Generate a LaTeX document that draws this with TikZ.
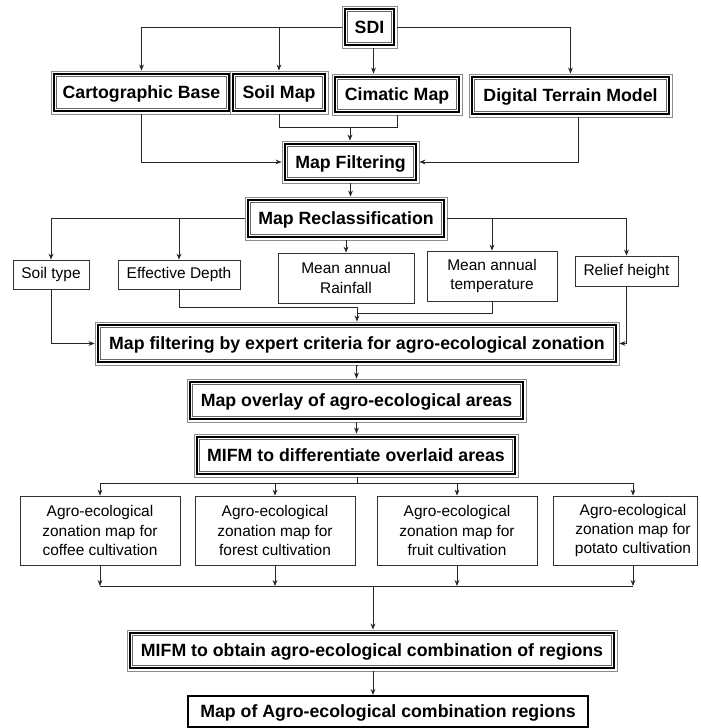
\documentclass[tikz,border=0pt]{standalone}
\usepackage{fontspec}
\setmainfont{Liberation Sans}
\usetikzlibrary{arrows.meta,calc}
\begin{document}
\begin{tikzpicture}[x=0.75pt,y=-0.75pt,
 conn/.style={draw=black!85, line width=0.6pt},
 arr/.style={conn, -{Stealth[length=4.5pt,width=3.6pt]}},
 bx/.style 2 args={minimum width=#1*0.75pt, minimum height=#2*0.75pt},
 tribox/.style={draw=black!45, line width=0.7pt, fill=white, inner sep=0pt, align=center,
   text height=9.6pt, text depth=0pt,
   font=\bfseries\fontsize{13.3}{16}\selectfont,
   path picture={
     \draw[black, line width=1.5pt] ([shift={(2.3pt,2.3pt)}]path picture bounding box.south west) rectangle ([shift={(-2.3pt,-2.3pt)}]path picture bounding box.north east);
     \draw[black!60, line width=0.5pt] ([shift={(4.1pt,4.1pt)}]path picture bounding box.south west) rectangle ([shift={(-4.1pt,-4.1pt)}]path picture bounding box.north east);
   }},
 pbox/.style={draw=black!80, line width=0.6pt, fill=white, inner sep=0pt, align=center,
   font=\fontsize{11.6}{14.6}\selectfont},
 ptext/.style={inner sep=0pt, align=center, font=\fontsize{11.6}{14.6}\selectfont},
 fbox/.style={draw=black, line width=1.5pt, fill=white, inner sep=0pt, align=center,
   text height=9.6pt, text depth=0pt,
   font=\bfseries\fontsize{13.3}{16}\selectfont}]
\useasboundingbox (0,0) rectangle (700,728);

% top level
\node[tribox, bx={55}{42}] (SDI) at (369.5,27) {SDI};
\node[tribox, bx={181}{43}] (cart) at (141.5,92.5) {Cartographic Base};
\node[tribox, bx={98}{43}] (soil) at (279,92.5) {Soil Map};
\node[tribox, bx={130}{41}] (cim) at (397,94.5) {Cimatic Map};
\node[tribox, bx={203}{43}] (dtm) at (570.5,95.5) {Digital Terrain Model};
\node[tribox, bx={137}{42}] (filt) at (350.5,162) {Map Filtering};
\node[tribox, bx={202}{43}] (recl) at (346,218.5) {Map Reclassification};

% criteria
\node[pbox, bx={76}{29}] (soiltype) at (51,274.5) {Soil type};
\node[pbox, bx={122}{29}] (depth) at (179,274.5) {Effective Depth};
\node[pbox, bx={136}{50}] (rain) at (346,278) {Mean annual\\Rainfall};
\node[pbox, bx={130}{50}] (temp) at (492,276) {Mean annual\\temperature};
\node[pbox, bx={103}{30}] (relief) at (626.5,271) {Relief height};

\node[tribox, bx={524}{43}] (expert) at (357,343.5) {Map filtering by expert criteria for agro-ecological zonation};
\node[tribox, bx={339}{43}] (overlay) at (356.5,400.5) {Map overlay of agro-ecological areas};
\node[tribox, bx={324}{43}] (mifmA) at (356,455.5) {MIFM to differentiate overlaid areas};

% zonation maps
\node[pbox, bx={160}{69}] (coffee) at (100,530.5) {Agro-ecological\\zonation map for\\coffee cultivation};
\node[pbox, bx={160}{69}] (forest) at (275,530.5) {Agro-ecological\\zonation map for\\forest cultivation};
\node[pbox, bx={160}{69}] (fruit) at (457,530.5) {Agro-ecological\\zonation map for\\fruit cultivation};
\node[pbox, bx={144}{69}] (potato) at (625,530.5) {};
\node[ptext] (potatotxt) at (633,530.5) {Agro-ecological\\zonation map for\\potato cultivation};

\node[tribox, bx={490}{41}] (mifmB) at (372,650.5) {MIFM to obtain agro-ecological combination of regions};
\node[fbox, bx={400}{31}] (final) at (388,711.5) {Map of Agro-ecological combination regions};

% junction coordinates
\coordinate (jA) at (350,127);
\coordinate (jB) at (357,307);
\coordinate (jC) at (357,313);
\coordinate (jD) at (357,483);
\coordinate (jE) at (373,586);

% SDI connectors
\draw[arr] (SDI.west) -| (cart.north);
\draw[arr] (soil.north |- SDI.west) -- (soil.north);
\draw[arr] (SDI.east) -| (dtm.north);
\draw[arr] ($(SDI.south)+(4,0)$) -- ($(SDI.south |- cim.north)+(4,0)$);

% to Map Filtering
\draw[arr] (cart.south) |- (filt.west);
\draw[conn] (soil.south) |- (jA);
\draw[conn] (cim.south) |- (jA);
\draw[arr] (jA) -- (jA |- filt.north);
\draw[arr] ($(dtm.south)+(8,0)$) |- (filt.east);
\draw[arr] (filt.south) -- (filt.south |- recl.north);

% reclassification
\draw[arr] (recl.west) -| (soiltype.north);
\draw[arr] (depth.north |- recl.west) -- (depth.north);
\draw[arr] (recl.south) -- (rain.north);
\draw[arr] (recl.east) -| (relief.north);
\draw[arr] (temp.north |- recl.east) -- (temp.north);

% to expert filtering
\draw[arr] (soiltype.south) |- (expert.west);
\draw[conn] (depth.south) |- (jB);
\draw[conn] (temp.south) |- (jC);
\draw[arr] (jB) -- (jB |- expert.north);
\draw[arr] (relief.south) |- (expert.east);

\draw[arr] (expert.south) -- (expert.south -| overlay.north) -- (overlay.north);
\draw[arr] (overlay.south) -- (overlay.south |- mifmA.north);

% to zonation maps
\draw[conn] (mifmA.south -| jD) -- (jD);
\draw[arr] (jD) -| (coffee.north);
\draw[arr] (jD) -| (forest.north);
\draw[arr] (jD) -| (fruit.north);
\draw[arr] (jD) -| (potatotxt.north |- potato.north);

% from zonation maps
\draw[arr] (coffee.south) -- (coffee.south |- jE);
\draw[arr] (forest.south) -- (forest.south |- jE);
\draw[arr] (fruit.south) -- (fruit.south |- jE);
\draw[arr] (potatotxt.south |- potato.south) -- (potatotxt.south |- jE);
\draw[conn] (coffee.south |- jE) -- (potatotxt.south |- jE);
\draw[arr] (jE) -- (jE |- mifmB.north);
\draw[arr] (mifmB.south -| jE) -- (jE |- final.north);
\end{tikzpicture}
\end{document}
